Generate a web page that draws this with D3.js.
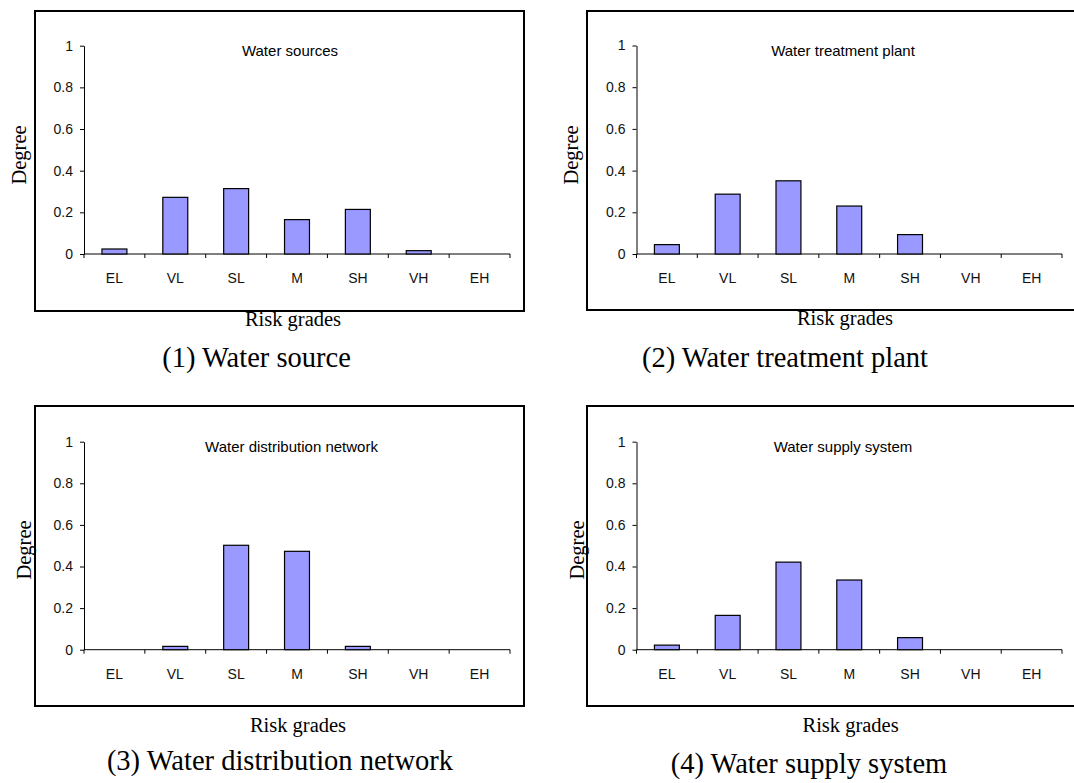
<!DOCTYPE html>
<html>
<head>
<meta charset="utf-8">
<script src="https://cdn.jsdelivr.net/npm/d3@7"></script>
<style>
  html, body { margin: 0; padding: 0; background: #fff; }
  svg { display: block; }
</style>
</head>
<body>
<svg id="chart" width="1074" height="783"></svg>
<script>
// ---- data ----
const categories = ["EL", "VL", "SL", "M", "SH", "VH", "EH"];
const waterSource = [0.024, 0.272, 0.314, 0.165, 0.214, 0.016, 0];
const treatmentPlant = [0.045, 0.287, 0.351, 0.230, 0.093, 0, 0];
const distributionNetwork = [0, 0.016, 0.502, 0.473, 0.016, 0, 0];
const supplySystem = [0.022, 0.165, 0.421, 0.335, 0.058, 0, 0];
const yTicks = [0, 0.2, 0.4, 0.6, 0.8, 1];
const innerTitles = ["Water sources", "Water treatment plant", "Water distribution network", "Water supply system"];
const captions = ["(1) Water source", "(2) Water treatment plant", "(3) Water distribution network", "(4) Water supply system"];
const yLabel = "Degree";
const xLabel = "Risk grades";

// ---- layout (positions / sizes only) ----
const layout = [
  { frame: [35, 11, 489, 300], plot: [84, 510, 45.7, 254], title: [290, 51], ylab: [19, 155], xlab: [293, 326], cap: [256.5, 367] },
  { frame: [587, 11, 520, 299], plot: [636.5, 1062, 45.5, 254], title: [843, 51], ylab: [571, 155], xlab: [845, 325], cap: [785, 367] },
  { frame: [35, 406, 489, 300], plot: [84, 510, 441.7, 649.7], title: [291.5, 447], ylab: [24, 550], xlab: [298, 732], cap: [280, 770] },
  { frame: [587, 406, 520, 300], plot: [636.5, 1062, 441.7, 649.7], title: [843, 447], ylab: [577, 550], xlab: [850.6, 732], cap: [809, 773] }
];
const seriesList = [waterSource, treatmentPlant, distributionNetwork, supplySystem];

const sans = "'Liberation Sans', Arial, sans-serif";
const serif = "'Liberation Serif', 'Times New Roman', serif";
const svg = d3.select("#chart");

seriesList.forEach((values, i) => {
  const L = layout[i];
  const g = svg.append("g");

  // frame
  g.append("rect")
    .attr("x", L.frame[0]).attr("y", L.frame[1])
    .attr("width", L.frame[2]).attr("height", L.frame[3])
    .attr("fill", "none").attr("stroke", "#000").attr("stroke-width", 2);

  const x = d3.scaleBand().domain(categories).range([L.plot[0], L.plot[1]]).padding(0);
  const y = d3.scaleLinear().domain([0, 1]).range([L.plot[3], L.plot[2]]);

  // y axis
  const yAxis = d3.axisLeft(y).tickValues(yTicks).tickFormat(d3.format("~g")).tickSize(4).tickPadding(7).tickSizeOuter(0);
  const yg = g.append("g").attr("transform", `translate(${L.plot[0]},0)`).call(yAxis);
  yg.select(".domain").attr("stroke", "#000");
  yg.selectAll(".tick line").attr("stroke", "#000");
  yg.selectAll("text").attr("font-family", sans).attr("font-size", 14).attr("fill", "#111");

  // x axis line with boundary ticks
  const y0 = y(0);
  const boundaries = categories.map(c => x(c)).concat([x.range()[1]]);
  g.append("line")
    .attr("x1", L.plot[0]).attr("x2", L.plot[1])
    .attr("y1", y0).attr("y2", y0)
    .attr("stroke", "#000").attr("stroke-width", 1);
  g.selectAll(".xtick").data(boundaries).enter().append("line")
    .attr("x1", d => d).attr("x2", d => d)
    .attr("y1", y0).attr("y2", y0 + 4)
    .attr("stroke", "#000").attr("stroke-width", 1);

  // category labels
  g.selectAll(".cat").data(categories).enter().append("text")
    .attr("x", c => x(c) + x.bandwidth() / 2)
    .attr("y", y0 + 29)
    .attr("text-anchor", "middle")
    .attr("font-family", sans).attr("font-size", 14).attr("fill", "#111")
    .text(c => c);

  // bars
  const bw = x.bandwidth() * 0.41;
  const data = categories.map((c, k) => ({ c, v: values[k] })).filter(d => d.v > 0);
  g.selectAll(".bar").data(data).enter().append("rect")
    .attr("x", d => x(d.c) + (x.bandwidth() - bw) / 2)
    .attr("y", d => y(d.v))
    .attr("width", bw)
    .attr("height", d => y0 - y(d.v))
    .attr("fill", "#9999FF")
    .attr("stroke", "#000").attr("stroke-width", 1.2);

  // inner title
  g.append("text")
    .attr("x", L.title[0]).attr("y", L.title[1]).attr("dy", "0.35em")
    .attr("text-anchor", "middle")
    .attr("font-family", sans).attr("font-size", 15).attr("fill", "#000")
    .text(innerTitles[i]);

  // y label
  g.append("text")
    .attr("transform", `translate(${L.ylab[0]},${L.ylab[1]}) rotate(-90)`)
    .attr("dy", "0.35em")
    .attr("text-anchor", "middle")
    .attr("font-family", serif).attr("font-size", 20.5).attr("fill", "#000")
    .text(yLabel);

  // x label
  g.append("text")
    .attr("x", L.xlab[0]).attr("y", L.xlab[1])
    .attr("text-anchor", "middle")
    .attr("font-family", serif).attr("font-size", 20.5).attr("fill", "#000")
    .text(xLabel);

  // caption
  svg.append("text")
    .attr("x", L.cap[0]).attr("y", L.cap[1])
    .attr("text-anchor", "middle")
    .attr("font-family", serif).attr("font-size", 28.5).attr("fill", "#000")
    .text(captions[i]);
});
</script>
</body>
</html>
